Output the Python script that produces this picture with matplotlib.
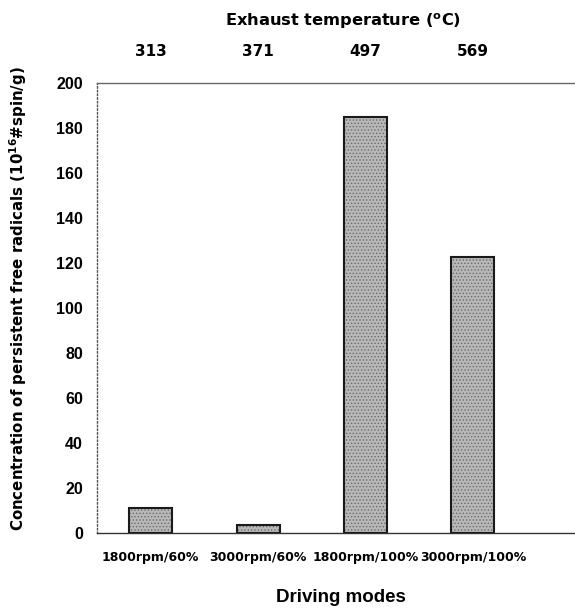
import matplotlib
matplotlib.use("Agg")
import matplotlib.pyplot as plt
import numpy as np

modes = ["1800rpm/60%", "3000rpm/60%", "1800rpm/100%", "3000rpm/100%"]
temps = ["313", "371", "497", "569"]
values = [11, 3.5, 185, 122.5]
yticks = [0, 20, 40, 60, 80, 100, 120, 140, 160, 180, 200]

W, H = 575, 609
DJ = ['DejaVu Sans']
LB = ['Liberation Sans', 'DejaVu Sans']
plt.rcParams['font.weight'] = 'bold'
plt.rcParams['hatch.linewidth'] = 0.6

fig = plt.figure(figsize=(W/100, H/100), dpi=100)
ax = fig.add_axes([97/W, 1 - 533/H, (W - 97)/W, (533 - 83)/H])

x = np.arange(len(modes))
ax.bar(x, values, width=0.40, color='#b8b8b8', edgecolor='#6a6a6a', hatch='.....',
       linewidth=0, zorder=3)
ax.bar(x, values, width=0.40, fill=False, edgecolor='#1a1a1a', linewidth=1.5, zorder=4)

ax.set_ylim(0, 200)
ax.set_xlim(-0.5, 3.95)
ax.set_yticks(yticks)
ax.set_yticklabels([str(v) for v in yticks], fontsize=11.5, fontweight='bold', family=LB)
ax.set_xticks(x)
ax.set_xticklabels(modes, fontsize=9, fontweight='bold', family=DJ)
ax.tick_params(axis='y', length=0, pad=10)
ax.tick_params(axis='x', length=0, pad=13)

ax.spines['right'].set_visible(False)
ax.spines['left'].set_linestyle(':')
ax.spines['left'].set_color('#555555')
ax.spines['left'].set_linewidth(1.0)
ax.spines['top'].set_linestyle((0, (6, 1)))
ax.spines['top'].set_color('#666666')
ax.spines['top'].set_linewidth(1.0)
ax.spines['bottom'].set_linestyle((0, (6, 1)))
ax.spines['bottom'].set_color('#333333')
ax.spines['bottom'].set_linewidth(1.0)

# x axis label (bottom)
fig.text(341/W, 1 - 598/H, "Driving modes", fontsize=13.5, fontweight='bold',
         family=LB, ha='center', va='center')
# y axis label
fig.text(18/W, 1 - 298.5/H,
         "Concentration of persistent free radicals (10$^{\\mathbf{16}}$#spin/g)",
         fontsize=10.8, fontweight='bold', family=DJ, rotation=90,
         ha='center', va='center')

ax2 = ax.twiny()
ax2.set_xlim(ax.get_xlim())
ax2.set_xticks(x)
ax2.set_xticklabels(temps, fontsize=11, fontweight='bold', family=DJ)
ax2.tick_params(axis='x', length=0, pad=17)
for s in ax2.spines.values():
    s.set_visible(False)

fig.text(343/W, 1 - 21/H, "Exhaust temperature ($^{\\mathbf{o}}$C)", fontsize=11.7,
         fontweight='bold', family=DJ, ha='center', va='center')

fig.savefig("out.png", dpi=100)
